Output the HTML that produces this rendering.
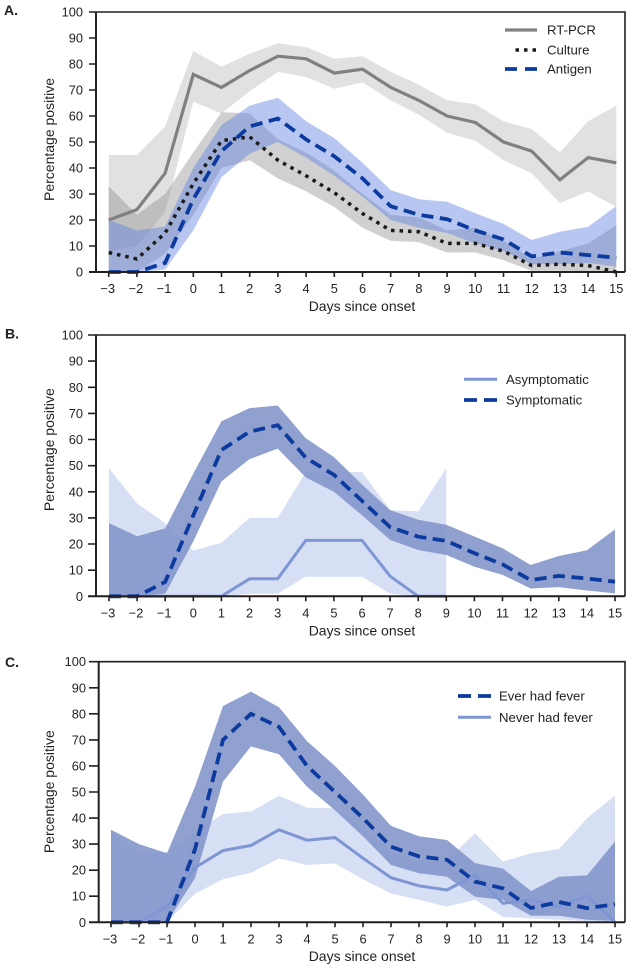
<!DOCTYPE html>
<html><head><meta charset="utf-8"><style>
html,body{margin:0;padding:0;background:#fff;}
svg{display:block;}
text{font-family:"Liberation Sans",sans-serif;fill:#231f20;}
.tk{font-size:12.8px;}
.lb{font-size:14px;}
.lg{font-size:13.2px;}
.pl{font-size:14px;font-weight:bold;}
</style></head><body>
<svg width="635" height="968" viewBox="0 0 635 968" xmlns="http://www.w3.org/2000/svg">
<rect width="635" height="968" fill="#fff"/>

<!-- ================= PANEL A ================= -->
<g transform="translate(108.7 272) scale(28.2 -2.6)">
<polygon fill="#e1e1e1" points="0,45 1,45 2,56 3,85 4,79 5,84 6,88 7,86.5 8,82 9,83 10,77 11,72 12,66 13,64.5 14,58 15,55 16,46 17,58 18,64 18,25 17,31 16,26.5 15,38 14,43 13,50.5 12,53.5 11,60.5 10,66 9,73 8,70.5 7,75 6,77 5,69.5 4,61 3,65.5 2,23 1,10 0,8"/>
<polygon fill="#8a8a8a" fill-opacity="0.4" points="0,33 1,22 2,30 3,46 4,61.5 5,61 6,51 7,46 8,39 9,30 10,22 11,21 12,16 13,17 14,12 15,5 16,8 17,11 18,18 18,0 17,0.3 16,0.5 15,0.5 14,4.5 13,7.5 12,7.5 11,11.5 10,12 9,17 8,25 7,31 6,36 5,43 4,40 3,22 2,7 1,0 0,0"/>
<polygon fill="#5f83e0" fill-opacity="0.45" points="0,20 1,16 2,17.5 3,40 4,56.5 5,64 6,67 7,58 8,51.5 9,42 10,31.5 11,28 12,27 13,22.6 14,18.5 15,12.3 16,15.5 17,17.4 18,25.4 18,2 17,3.5 16,3 15,3 14,8 13,11 12,15 11,17 10,20 9,29 8,37 7,44 6,50 5,45.5 4,36.5 3,16 2,1 1,0 0,0"/>
</g>
<polyline fill="none" stroke="#808080" stroke-width="3.2" stroke-linejoin="miter" points="108.7,220 136.9,209.6 165.1,173.2 193.3,74.4 221.5,87.4 249.7,70.5 277.9,56.2 306.1,58.8 334.3,73.1 362.5,69.2 390.7,87.4 418.9,100.4 447.1,116 475.3,122.5 503.5,142 531.7,151.1 559.9,179.7 588.1,157.6 616.3,162.8"/>
<polyline fill="none" stroke="#1a1a1a" stroke-width="3.5" stroke-dasharray="3.5 5" points="108.7,252.5 136.9,259 165.1,233 193.3,183.6 221.5,140.7 249.7,136.8 277.9,160.2 306.1,175.8 334.3,192.7 362.5,213.5 390.7,230.4 418.9,231.7 447.1,243.4 475.3,243.4 503.5,251.2 531.7,265.5 559.9,264.2 588.1,265.5 616.3,272"/>
<polyline fill="none" stroke="#0d3a9e" stroke-width="3.8" stroke-dasharray="12 6.5" points="108.7,272 136.9,272 165.1,262.9 193.3,199.2 221.5,151.1 249.7,126.4 277.9,118.6 306.1,139.4 334.3,156.3 362.5,178.4 390.7,206.2 418.9,214.8 447.1,219.2 475.3,230.4 503.5,239.5 531.7,256.4 559.9,252.5 588.1,255.1 616.3,257.7"/>

<!-- frame A -->
<path d="M96 12 H625 V272" fill="none" stroke="#231f20" stroke-width="1.6"/>
<path d="M96 11.5 V273 M89 272 H625" fill="none" stroke="#231f20" stroke-width="2"/>
<path d="M89 246H96M89 220H96M89 194H96M89 168H96M89 142H96M89 116H96M89 90H96M89 64H96M89 38H96M89 12H96" stroke="#231f20" stroke-width="1.6"/>
<path d="M108.7 272v5M136.9 272v5M165.1 272v5M193.3 272v5M221.5 272v5M249.7 272v5M277.9 272v5M306.1 272v5M334.3 272v5M362.5 272v5M390.7 272v5M418.9 272v5M447.1 272v5M475.3 272v5M503.5 272v5M531.7 272v5M559.9 272v5M588.1 272v5M616.3 272v5" stroke="#231f20" stroke-width="1.6"/>
<g class="tk" text-anchor="end">
<text x="83" y="276.5">0</text><text x="83" y="250.5">10</text><text x="83" y="224.5">20</text><text x="83" y="198.5">30</text><text x="83" y="172.5">40</text><text x="83" y="146.5">50</text><text x="83" y="120.5">60</text><text x="83" y="94.5">70</text><text x="83" y="68.5">80</text><text x="83" y="42.5">90</text><text x="83" y="16.5">100</text>
</g>
<g class="tk" text-anchor="middle">
<text x="107.7" y="293">−3</text><text x="135.9" y="293">−2</text><text x="164.1" y="293">−1</text><text x="193.3" y="293">0</text><text x="221.5" y="293">1</text><text x="249.7" y="293">2</text><text x="277.9" y="293">3</text><text x="306.1" y="293">4</text><text x="334.3" y="293">5</text><text x="362.5" y="293">6</text><text x="390.7" y="293">7</text><text x="418.9" y="293">8</text><text x="447.1" y="293">9</text><text x="475.3" y="293">10</text><text x="503.5" y="293">11</text><text x="531.7" y="293">12</text><text x="559.9" y="293">13</text><text x="588.1" y="293">14</text><text x="616.3" y="293">15</text>
</g>
<text class="lb" x="362" y="311" text-anchor="middle">Days since onset</text>
<text class="lb" transform="translate(54 139.5) rotate(-90)" text-anchor="middle">Percentage positive</text>
<text class="pl" x="4" y="15">A.</text>
<!-- legend A -->
<line x1="505" y1="30" x2="537" y2="30" stroke="#808080" stroke-width="3.2"/>
<text class="lg" x="547" y="34.7">RT-PCR</text>
<line x1="515.5" y1="50" x2="537" y2="50" stroke="#1a1a1a" stroke-width="3.5" stroke-dasharray="3.5 5"/>
<text class="lg" x="547" y="54.7">Culture</text>
<line x1="505" y1="69" x2="537" y2="69" stroke="#0d3a9e" stroke-width="3.8" stroke-dasharray="12 8"/>
<text class="lg" x="547" y="73.7">Antigen</text>

<!-- ================= PANEL B ================= -->
<g transform="translate(109 596.3) scale(28.11 -2.613)">
<polygon fill="#d6dff4" points="0,49 1,35.5 2,28 3,17.5 4,20.5 5,30 6,30 7,47.5 8,47.5 9,47.5 10,33 11,32.5 12,49 12,0 11,0 10,1 9,7.5 8,7.5 7,7.5 6,1 5,1 4,0 3,0 2,0 1,0 0,0"/>
<polygon fill="#8497cb" fill-opacity="0.9" points="0,28 1,23 2,26 3,47 4,67 5,72 6,73 7,60.5 8,53.3 9,42.8 10,33 11,29.3 12,27.4 13,22.9 14,18.4 15,12 16,15.4 17,17.6 18,25.6 18,1.1 17,2.2 16,3.5 15,3 14,8.2 13,11.3 12,15.8 11,17.7 10,21.6 9,31 8,40 7,45.5 6,56.5 5,52.5 4,44 3,21 2,1 1,0 0,0"/>
</g>
<polyline fill="none" stroke="#7f96d4" stroke-width="3" points="109,596.3 137.1,596.3 165.2,596.3 193.3,596.3 221.4,596.3 249.6,578.8 277.7,578.8 305.8,540.4 333.9,540.4 362,540.4 390.1,576.2 418.2,596.3 446.3,596.3"/>
<polyline fill="none" stroke="#0d3a9e" stroke-width="3.8" stroke-dasharray="12 6.5" points="109,596.3 137.1,596.3 165.2,581.9 193.3,515.3 221.4,450 249.6,431.7 277.7,425.2 305.8,457.8 333.9,474.8 362,500.9 390.1,527.1 418.2,536.7 446.3,540.9 474.4,553.2 502.5,564.4 530.7,580.1 558.8,575.9 586.9,578.5 615,581.7"/>

<path d="M96 335 H625 V596.3" fill="none" stroke="#231f20" stroke-width="1.6"/>
<path d="M96 334.5 V597.3 M88 596.3 H625" fill="none" stroke="#231f20" stroke-width="2"/>
<path d="M88 570.2H96M88 544H96M88 517.9H96M88 491.8H96M88 465.7H96M88 439.5H96M88 413.4H96M88 387.3H96M88 361.1H96M88 335H96" stroke="#231f20" stroke-width="1.6"/>
<path d="M109 596.3v5M137.1 596.3v5M165.2 596.3v5M193.3 596.3v5M221.4 596.3v5M249.6 596.3v5M277.7 596.3v5M305.8 596.3v5M333.9 596.3v5M362 596.3v5M390.1 596.3v5M418.2 596.3v5M446.3 596.3v5M474.4 596.3v5M502.5 596.3v5M530.7 596.3v5M558.8 596.3v5M586.9 596.3v5M615 596.3v5" stroke="#231f20" stroke-width="1.6"/>
<g class="tk" text-anchor="end">
<text x="83" y="600.8">0</text><text x="83" y="574.7">10</text><text x="83" y="548.5">20</text><text x="83" y="522.4">30</text><text x="83" y="496.3">40</text><text x="83" y="470.2">50</text><text x="83" y="444">60</text><text x="83" y="417.9">70</text><text x="83" y="391.8">80</text><text x="83" y="365.6">90</text><text x="83" y="339.5">100</text>
</g>
<g class="tk" text-anchor="middle">
<text x="108" y="617.5">−3</text><text x="136.1" y="617.5">−2</text><text x="164.2" y="617.5">−1</text><text x="193.3" y="617.5">0</text><text x="221.4" y="617.5">1</text><text x="249.6" y="617.5">2</text><text x="277.7" y="617.5">3</text><text x="305.8" y="617.5">4</text><text x="333.9" y="617.5">5</text><text x="362" y="617.5">6</text><text x="390.1" y="617.5">7</text><text x="418.2" y="617.5">8</text><text x="446.3" y="617.5">9</text><text x="474.4" y="617.5">10</text><text x="502.5" y="617.5">11</text><text x="530.7" y="617.5">12</text><text x="558.8" y="617.5">13</text><text x="586.9" y="617.5">14</text><text x="615" y="617.5">15</text>
</g>
<text class="lb" x="362" y="635.5" text-anchor="middle">Days since onset</text>
<text class="lb" transform="translate(54 449.7) rotate(-90)" text-anchor="middle">Percentage positive</text>
<text class="pl" x="5" y="338.5">B.</text>
<line x1="464" y1="379.3" x2="497" y2="379.3" stroke="#7f96d4" stroke-width="3"/>
<text class="lg" x="506" y="384">Asymptomatic</text>
<line x1="464" y1="400" x2="497" y2="400" stroke="#0d3a9e" stroke-width="3.8" stroke-dasharray="13 7"/>
<text class="lg" x="506" y="404.7">Symptomatic</text>

<!-- ================= PANEL C ================= -->
<g transform="translate(111 922.3) scale(28 -2.606)">
<polygon fill="#d6dff4" points="0,35 1,26 2,27 3,35 4,41.5 5,42.5 6,48.5 7,44 8,43.7 9,36 10,27 11,23 12,24 13,34.1 14,23.3 15,26.5 16,28.1 17,39.9 18,48.6 18,0 17,0.5 16,1 15,1.5 14,2.1 13,8.6 12,6 11,8.6 10,11.1 9,16.5 8,22.6 7,22 6,24.5 5,19 4,16.5 3,11 2,0 1,0 0,0"/>
<polygon fill="#8497cb" fill-opacity="0.9" points="0,35.5 1,30 2,26.5 3,52 4,83 5,88.5 6,82.5 7,69.5 8,60 9,49 10,37 11,33 12,31.6 13,22.7 14,20.6 15,12 16,17.5 17,18 18,31 18,0.5 17,1 16,2.5 15,2.5 14,8.6 13,9.8 12,17.5 11,18.8 10,22 9,33 8,43 7,52 6,64.5 5,67.5 4,54 3,17 2,0 1,0 0,0"/>
</g>
<polyline fill="none" stroke="#7f96d4" stroke-width="3" points="111,922.3 139,922.3 167,906.7 195,867.6 223,850.6 251,845.4 279,829.8 307,840.2 335,837.6 363,858.2 391,877.7 419,885.8 447,890 475,874.9 503,903.3 531,899.9 559,906.7 587,895.7 615,922.3"/>
<polyline fill="none" stroke="#0d3a9e" stroke-width="3.8" stroke-dasharray="12 6.5" points="111,922.3 139,922.3 167,922.3 195,849.3 223,739.9 251,713.8 279,726.9 307,765.9 335,792 363,818.1 391,846.7 419,856.4 447,859.8 475,881.6 503,888.4 531,908 559,902 587,908.2 615,904.3"/>

<path d="M98.7 661.7 H625 V922.3" fill="none" stroke="#231f20" stroke-width="1.6"/>
<path d="M98.7 661.2 V923.3 M89 922.3 H625" fill="none" stroke="#231f20" stroke-width="2"/>
<path d="M89 896.2H98.7M89 870.2H98.7M89 844.1H98.7M89 818.1H98.7M89 792H98.7M89 765.9H98.7M89 739.9H98.7M89 713.8H98.7M89 687.8H98.7M89 661.7H98.7" stroke="#231f20" stroke-width="1.6"/>
<path d="M111 922.3v5M139 922.3v5M167 922.3v5M195 922.3v5M223 922.3v5M251 922.3v5M279 922.3v5M307 922.3v5M335 922.3v5M363 922.3v5M391 922.3v5M419 922.3v5M447 922.3v5M475 922.3v5M503 922.3v5M531 922.3v5M559 922.3v5M587 922.3v5M615 922.3v5" stroke="#231f20" stroke-width="1.6"/>
<g class="tk" text-anchor="end">
<text x="86" y="926.8">0</text><text x="86" y="900.7">10</text><text x="86" y="874.7">20</text><text x="86" y="848.6">30</text><text x="86" y="822.6">40</text><text x="86" y="796.5">50</text><text x="86" y="770.4">60</text><text x="86" y="744.4">70</text><text x="86" y="718.3">80</text><text x="86" y="692.3">90</text><text x="86" y="666.2">100</text>
</g>
<g class="tk" text-anchor="middle">
<text x="110" y="943.3">−3</text><text x="138" y="943.3">−2</text><text x="166" y="943.3">−1</text><text x="195" y="943.3">0</text><text x="223" y="943.3">1</text><text x="251" y="943.3">2</text><text x="279" y="943.3">3</text><text x="307" y="943.3">4</text><text x="335" y="943.3">5</text><text x="363" y="943.3">6</text><text x="391" y="943.3">7</text><text x="419" y="943.3">8</text><text x="447" y="943.3">9</text><text x="475" y="943.3">10</text><text x="503" y="943.3">11</text><text x="531" y="943.3">12</text><text x="559" y="943.3">13</text><text x="587" y="943.3">14</text><text x="615" y="943.3">15</text>
</g>
<text class="lb" x="362" y="961" text-anchor="middle">Days since onset</text>
<text class="lb" transform="translate(54 791.7) rotate(-90)" text-anchor="middle">Percentage positive</text>
<text class="pl" x="5" y="667">C.</text>
<line x1="458" y1="696" x2="491" y2="696" stroke="#0d3a9e" stroke-width="3.8" stroke-dasharray="13 7"/>
<text class="lg" x="499" y="700.7">Ever had fever</text>
<line x1="458" y1="717.3" x2="491" y2="717.3" stroke="#7f96d4" stroke-width="3"/>
<text class="lg" x="499" y="722">Never had fever</text>
</svg>
</body></html>
